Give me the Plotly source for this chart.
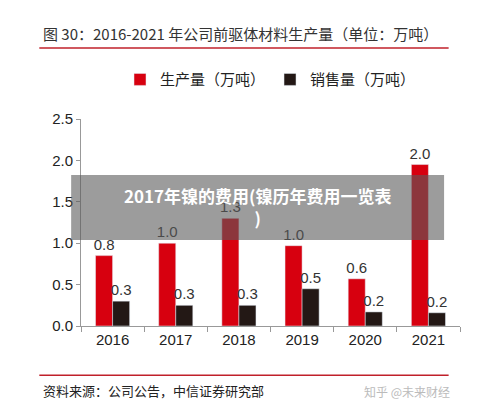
import plotly.graph_objects as go

years = ["2016", "2017", "2018", "2019", "2020", "2021"]
production = [0.85, 1.0, 1.3, 0.97, 0.57, 1.95]
sales = [0.3, 0.25, 0.25, 0.45, 0.17, 0.16]
production_labels = ["0.8", "1.0", "1.3", "1.0", "0.6", "2.0"]
sales_labels = ["0.3", "0.3", "0.3", "0.5", "0.2", "0.2"]

font = "Noto Sans CJK SC"

fig = go.Figure()
fig.add_trace(go.Bar(
    x=years, y=production, name="生产量（万吨）",
    marker_color="#d7000f", text=production_labels,
    textposition="outside", cliponaxis=False, constraintext="none",
    textfont=dict(size=15, color="#333", family="Liberation Sans"),
))
fig.add_trace(go.Bar(
    x=years, y=sales, name="销售量（万吨）",
    marker_color="#231815", text=sales_labels,
    textposition="outside", cliponaxis=False, constraintext="none",
    textfont=dict(size=15, color="#333", family="Liberation Sans"),
))

fig.update_layout(
    width=500, height=414,
    margin=dict(l=73, r=48, t=111, b=96, autoexpand=False),
    paper_bgcolor="white", plot_bgcolor="white",
    font=dict(family=font, color="#222"),
    barmode="group", bargap=0.46, bargroupgap=0,
    showlegend=True,
    legend=dict(orientation="h", x=0.5, xanchor="center", y=1.19, yanchor="middle",
                font=dict(size=15), traceorder="normal"),
    xaxis=dict(showline=True, linecolor="#999", ticks="outside", ticklen=5,
               tickcolor="#999", tickson="boundaries",
               tickfont=dict(size=15, family="Liberation Sans")),
    yaxis=dict(range=[0, 2.5], dtick=0.5, tickformat=".1f", showgrid=False,
               showline=True, linecolor="#999", ticks="outside", ticklen=4,
               tickcolor="#999", zeroline=False,
               tickfont=dict(size=15, family="Liberation Sans")),
    shapes=[
        dict(type="line", xref="paper", yref="paper", x0=-0.11, x1=0.97,
             y0=1.343, y1=1.343, line=dict(color="#c0202a", width=1.5)),
        dict(type="line", xref="paper", yref="paper", x0=-0.11, x1=0.97,
             y0=-0.238, y1=-0.238, line=dict(color="#c0202a", width=1.5)),
        dict(type="rect", xref="paper", yref="paper", x0=-0.026, x1=0.958,
             y0=0.415, y1=0.73, fillcolor="rgba(90,90,90,0.6)", line_width=0,
             layer="above"),
    ],
    annotations=[
        dict(text="图 30：2016-2021 年公司前驱体材料生产量（单位：万吨）",
             xref="paper", yref="paper", x=-0.105, y=1.415, xanchor="left",
             yanchor="middle", showarrow=False, font=dict(size=15, color="#333")),
        dict(text="资料来源：公司公告，中信证券研究部",
             xref="paper", yref="paper", x=-0.105, y=-0.31, xanchor="left",
             yanchor="middle", showarrow=False, font=dict(size=13, color="#222")),
        dict(text="知乎 @未来财经",
             xref="paper", yref="paper", x=0.98, y=-0.315, xanchor="right",
             yanchor="middle", showarrow=False, font=dict(size=12, color="#bbb")),
        dict(text="<b>2017年镍的费用(镍历年费用一览表<br>)</b>",
             xref="paper", yref="paper", x=0.466, y=0.575, xanchor="center",
             yanchor="middle", showarrow=False,
             font=dict(size=17, color="white")),
    ],
)

fig.write_html("out.html")
